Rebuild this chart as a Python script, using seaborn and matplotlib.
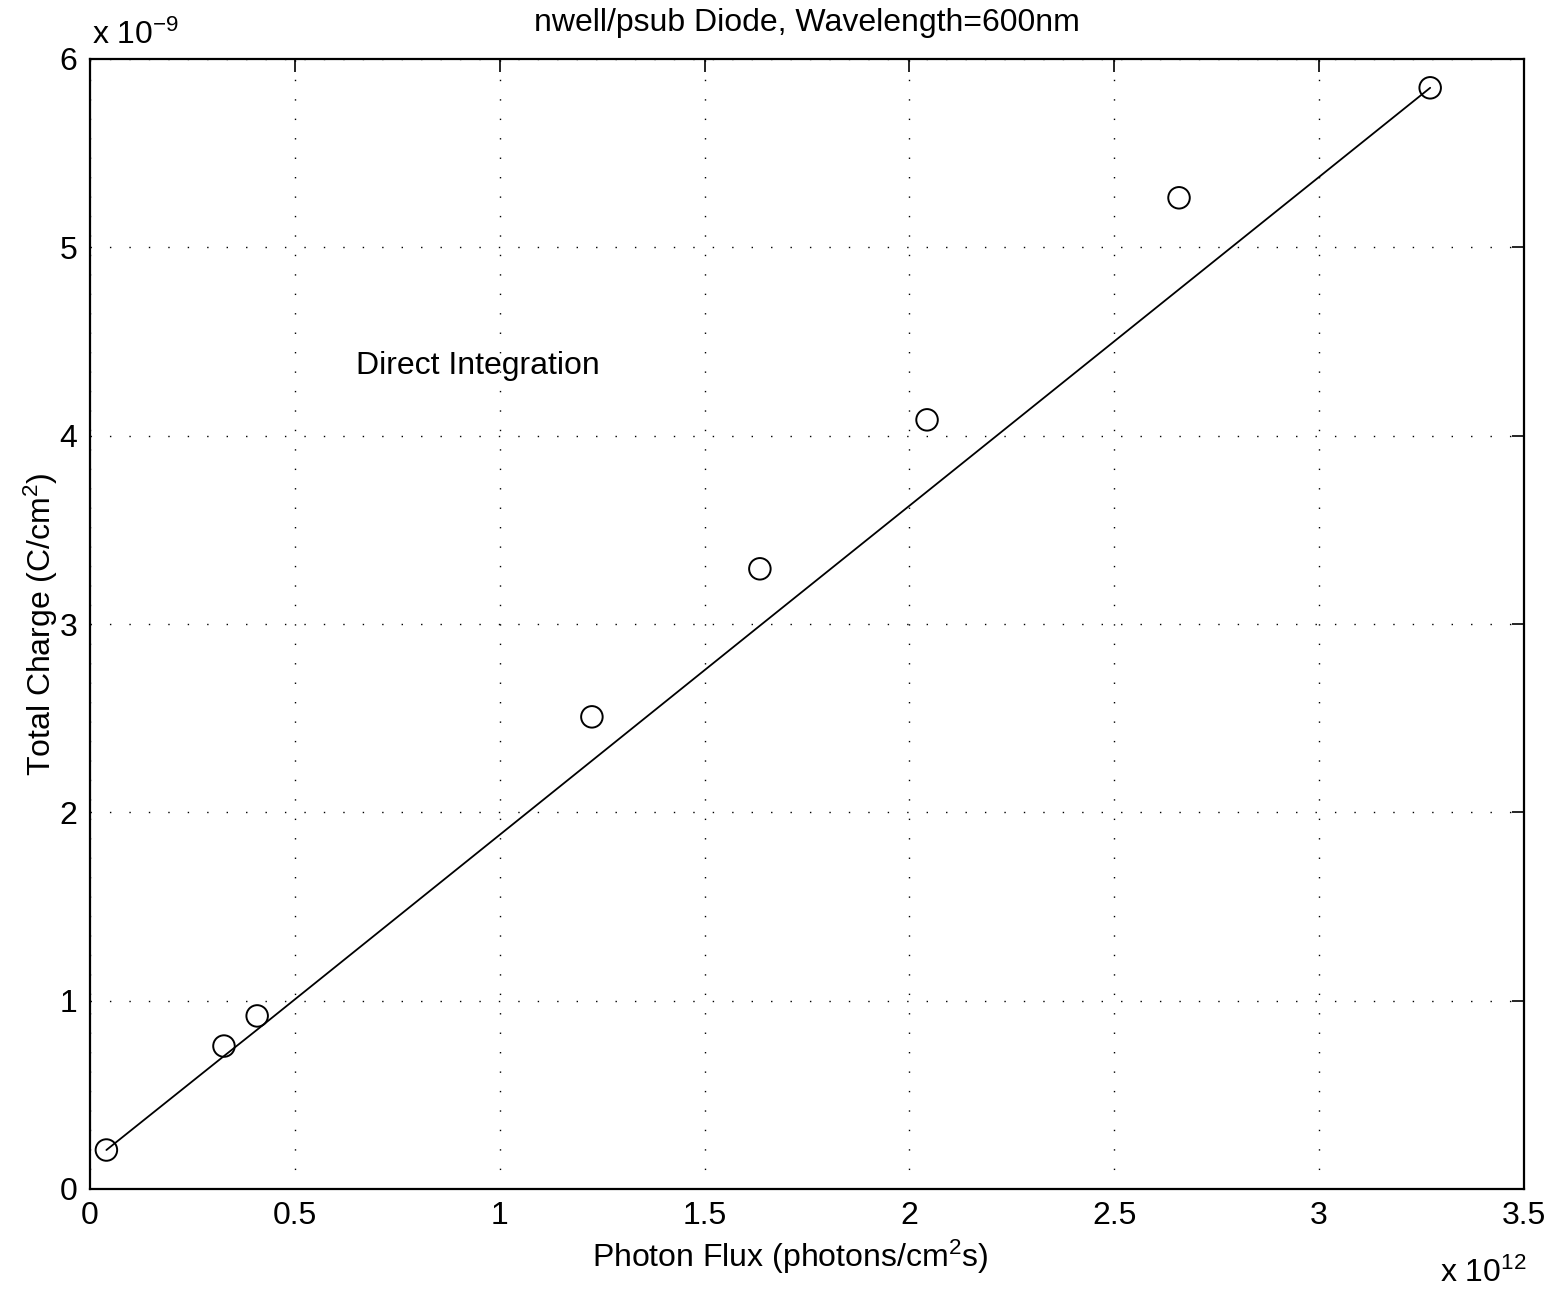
import numpy as np
import pandas as pd
import seaborn as sns
import matplotlib
matplotlib.use("Agg")
import matplotlib.pyplot as plt

# photon flux in units of 1e12 photons/cm^2 s, charge in units of 1e-9 C/cm^2
flux = [0.04, 0.327, 0.408, 1.225, 1.635, 2.043, 2.658, 3.271]
charge = [0.207, 0.759, 0.919, 2.507, 3.293, 4.084, 5.263, 5.847]
fit_charge = [0.207, 0.706, 0.846, 2.274, 2.991, 3.703, 4.777, 5.847]

x_ticks = [0, 0.5, 1, 1.5, 2, 2.5, 3, 3.5]
x_labels = ["0", "0.5", "1", "1.5", "2", "2.5", "3", "3.5"]
y_ticks = [0, 1, 2, 3, 4, 5, 6]
y_labels = ["0", "1", "2", "3", "4", "5", "6"]

df = pd.DataFrame({"flux": flux, "charge": charge, "fit": fit_charge})

sns.set_style("white")
plt.rcParams["font.family"] = ["Liberation Sans", "DejaVu Sans"]
plt.rcParams["text.color"] = "black"
plt.rcParams["axes.labelcolor"] = "black"
plt.rcParams["mathtext.fontset"] = "custom"
plt.rcParams["mathtext.rm"] = "Liberation Sans"
plt.rcParams["mathtext.it"] = "Liberation Sans"

fs = 23
fig = plt.figure(figsize=(15.57, 12.89), dpi=100)
ax = fig.add_axes([90 / 1557, 1 - 1189 / 1289, 1434 / 1557, 1130 / 1289])

sns.lineplot(data=df, x="flux", y="fit", ax=ax, color="black", linewidth=1.3)
sns.scatterplot(data=df, x="flux", y="charge", ax=ax, marker="o", s=240,
                facecolor="none", edgecolor="black", linewidth=1.4, zorder=3)

ax.set_xlim(0, 3.5)
ax.set_ylim(0, 6)
ax.set_xticks(x_ticks)
ax.set_xticklabels(x_labels)
ax.set_yticks(y_ticks)
ax.set_yticklabels(y_labels)
ax.tick_params(direction="in", length=9, width=1.2, labelsize=fs, top=True, right=True,
               pad=9, color="black", labelcolor="black")
for s in ax.spines.values():
    s.set_visible(True)
    s.set_color("black")
    s.set_linewidth(1.6)
ax.grid(True, color="black", linestyle=(0, (1, 13)), linewidth=1.0)

ax.set_xlabel("Photon Flux (photons/cm$^2$s)", fontsize=fs)
ax.xaxis.set_label_coords(0.488, -0.069, transform=ax.transAxes)
ax.xaxis.label.set_va("baseline")
ax.set_ylabel("Total Charge (C/cm$^2$)", fontsize=fs, labelpad=0)
ax.set_title("nwell/psub Diode, Wavelength=600nm", fontsize=fs, pad=20)

ax.text(0.65, 4.33, "Direct Integration", fontsize=fs)
fig.text(92 / 1557, 1 - 44 / 1289, "x 10$^{-9}$", fontsize=fs)
fig.text(1440 / 1557, 1 - 1282 / 1289, "x 10$^{12}$", fontsize=fs)

fig.savefig("out.png", dpi=100, facecolor="white")
